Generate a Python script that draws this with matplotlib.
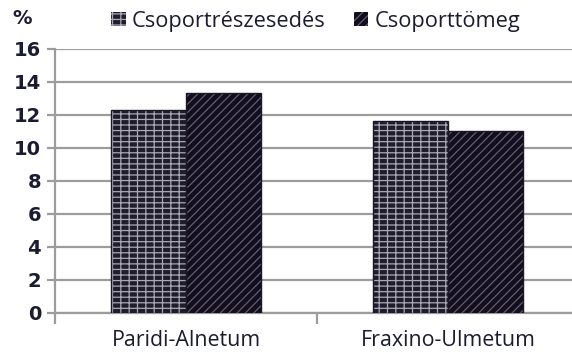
import matplotlib
matplotlib.use("Agg")
import matplotlib.pyplot as plt
import numpy as np
from matplotlib.patches import Patch

categories = ["Paridi-Alnetum", "Fraxino-Ulmetum"]
series_names = ["Csoportrészesedés", "Csoporttömeg"]
reszesedes = [12.3, 11.6]
tomeg = [13.3, 11.0]
yticks = [0, 2, 4, 6, 8, 10, 12, 14, 16]

plt.rcParams["font.family"] = ["Open Sans", "DejaVu Sans"]
plt.rcParams["hatch.linewidth"] = 0.9
text_col = "#1c1c30"
grid_col = "#9c9c9c"

W, H = 572, 352
fig = plt.figure(figsize=(W / 100, H / 100), dpi=100)
left_px, bottom_px, top_px = 55, 39.5, 49
ax = fig.add_axes([left_px / W, bottom_px / H, 1 - left_px / W,
                   (H - top_px - bottom_px) / H])

x = np.arange(len(categories))
w = 0.287
cat_px = 262  # width of one category slot

styles = [
    dict(face="#1f1c2b", hatch="---||", hcol="#aaa8b6"),
    dict(face="#120f1a", hatch="////", hcol="#625b7d"),
]
for i, (vals, st) in enumerate(zip([reszesedes, tomeg], styles)):
    pos = x - w / 2 + i * w
    ax.bar(pos, vals, width=w, color=st["face"], hatch=st["hatch"],
           edgecolor=st["hcol"], linewidth=0, zorder=3)
    ax.bar(pos, vals, width=w, facecolor="none", edgecolor="#1a1826",
           linewidth=1.0, zorder=4)

ax.set_ylim(0, 16)
ax.set_xlim(-0.5, -0.5 + (W - left_px) / cat_px)
ax.set_yticks(yticks)
ax.yaxis.grid(True, color=grid_col, linewidth=1.6, zorder=0)
ax.set_axisbelow(True)

ax.set_xticks(x)
ax.set_xticklabels(categories, fontsize=15.4, color=text_col)
ax.set_xticks([-0.5, 0.5], minor=True)
ax.tick_params(axis="x", which="major", length=0, pad=12.5)
ax.tick_params(axis="x", which="minor", length=8, width=1.6, color=grid_col)
ax.tick_params(axis="y", length=6, width=1.6, color=grid_col, pad=4,
               labelcolor=text_col)
for lab in ax.get_yticklabels():
    lab.set_fontfamily("DejaVu Sans")
    lab.set_fontweight("bold")
    lab.set_fontsize(14)

for s in ["top", "right"]:
    ax.spines[s].set_visible(False)
for s in ["left", "bottom"]:
    ax.spines[s].set_color(grid_col)
    ax.spines[s].set_linewidth(1.6)

fig.text(12 / W, 1 - 18 / H, "%", fontsize=14, fontweight="bold",
         family="DejaVu Sans", color=text_col, ha="left", va="center")

handles = [Patch(facecolor=st["face"], hatch=st["hatch"], edgecolor=st["hcol"],
                 linewidth=0) for st in styles]
leg = fig.legend(handles, series_names, loc="center", ncol=2,
                 bbox_to_anchor=(316 / W, 1 - 21 / H), frameon=False,
                 fontsize=15.7, handlelength=0.65, handleheight=0.65,
                 handletextpad=0.3, columnspacing=1.3, borderpad=0,
                 borderaxespad=0)
for t in leg.get_texts():
    t.set_color(text_col)

fig.savefig("out.png", dpi=100)
